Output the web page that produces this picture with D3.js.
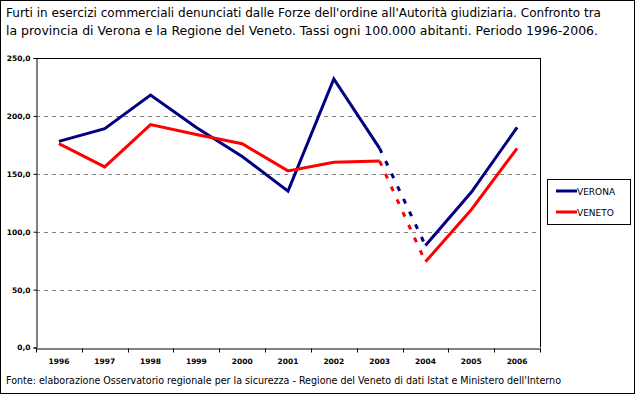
<!DOCTYPE html>
<html><head><meta charset="utf-8">
<script src="https://cdn.jsdelivr.net/npm/d3@7/dist/d3.min.js"></script>
<style>body{margin:0;background:#fff}svg{display:block}</style>
</head><body>
<svg id="c" width="635" height="394"></svg>
<script>
const years = ["1996","1997","1998","1999","2000","2001","2002","2003","2004","2005","2006"];
const verona = [178,189,218,190,165,135,232,172,88,134,190];
const veneto = [176,156,192.5,184,176,152.5,160,161,74,119,172];
const yTicks = [0,50,100,150,200,250];
const seriesNames = ["VERONA","VENETO"];
const seriesColors = ["#000080","#ff0000"];
const titleLines = ["Furti in esercizi commerciali denunciati dalle Forze dell'ordine all'Autorità giudiziaria. Confronto tra",
 "la provincia di Verona e la Regione del Veneto. Tassi ogni 100.000 abitanti. Periodo 1996-2006."];
const sourceText = "Fonte: elaborazione Osservatorio regionale per la sicurezza - Regione del Veneto di dati Istat e Ministero dell'Interno";
const dashedFrom = "2003", dashedTo = "2004";

const svg = d3.select("#c");
const W=635,H=394;
svg.append("rect").attr("x",0.5).attr("y",0.5).attr("width",W-1).attr("height",H-1).attr("fill","#fff").attr("stroke","#000");

const L=36,R=540,T=58,B=347.5;
const x = d3.scaleBand().domain(years).range([L,R]).padding(0);
const y = d3.scaleLinear().domain([0,250]).range([B,T]);

// title
const tl=[[595,13],[592,31]];
svg.selectAll("text.title").data(titleLines).join("text").attr("class","title")
 .attr("x",6).attr("y",(d,i)=>[17,35][i]).attr("font-family","DejaVu Sans, sans-serif").attr("font-size",12.5)
 .attr("textLength",(d,i)=>tl[i][0]).attr("lengthAdjust","spacingAndGlyphs").text(d=>d);

// gridlines
svg.append("g").selectAll("line").data(yTicks.filter(v=>v>0&&v<250)).join("line")
 .attr("x1",L).attr("x2",R).attr("y1",d=>Math.round(y(d))+0.5).attr("y2",d=>Math.round(y(d))+0.5)
 .attr("stroke","#808080").attr("stroke-dasharray","4,4");

// plot border
svg.append("line").attr("x1",L).attr("x2",R).attr("y1",T+0.5).attr("y2",T+0.5).attr("stroke","#000");
svg.append("line").attr("x1",R+0.5).attr("x2",R+0.5).attr("y1",T).attr("y2",B).attr("stroke","#000");

// y axis
const ya = svg.append("g").attr("transform",`translate(${L+0.5},0)`)
 .call(d3.axisLeft(y).tickValues(yTicks).tickSize(3).tickFormat(d=>d3.format(".1f")(d).replace(".",",")));
ya.select(".domain").attr("stroke","#000");
ya.selectAll("text").attr("font-family","DejaVu Sans, sans-serif").attr("font-size",7.5).attr("font-weight","bold").attr("x",-6);

// x axis
const xa = svg.append("g").attr("transform",`translate(0,${Math.round(B)+0.5})`)
 .call(d3.axisBottom(x).tickSize(0).tickSizeOuter(0));
xa.select(".domain").attr("stroke","#000");
xa.selectAll("text").attr("font-family","DejaVu Sans, sans-serif").attr("font-size",7.5).attr("font-weight","bold").attr("dy","0").attr("y",15);
// boundary ticks
const bounds = years.map(d=>x(d)).concat([R]);
xa.selectAll("line.bt").data(bounds).join("line").attr("class","bt")
 .attr("x1",d=>Math.round(d)+0.5).attr("x2",d=>Math.round(d)+0.5).attr("y1",0).attr("y2",4).attr("stroke","#000");

// lines
const cx = d=>x(d)+x.bandwidth()/2;
[verona,veneto].forEach((vals,si)=>{
  const pts = years.map((yr,i)=>({yr,v:vals[i]}));
  const iA = years.indexOf(dashedFrom), iB = years.indexOf(dashedTo);
  const line = d3.line().x(d=>cx(d.yr)).y(d=>y(d.v));
  const g = svg.append("g").attr("fill","none").attr("stroke",seriesColors[si]).attr("stroke-width",3).attr("stroke-linejoin","miter");
  g.append("path").attr("d",line(pts.slice(0,iA+1)));
  g.append("path").attr("d",line(pts.slice(iA,iB+1))).attr("stroke-dasharray","5,9");
  g.append("path").attr("d",line(pts.slice(iB)));
});

// legend
const lg = svg.append("g");
lg.append("rect").attr("x",547.5).attr("y",179.5).attr("width",83).attr("height",45).attr("fill","#fff").attr("stroke","#000");
seriesNames.forEach((n,i)=>{
  const yy=[191,212][i];
  lg.append("line").attr("x1",556).attr("x2",577).attr("y1",yy).attr("y2",yy).attr("stroke",seriesColors[i]).attr("stroke-width",3);
  lg.append("text").attr("x",577).attr("y",yy+3.5).attr("font-family","DejaVu Sans, sans-serif").attr("font-size",9).text(n);
});

// source
svg.append("text").attr("x",6).attr("y",384).attr("font-family","DejaVu Sans, sans-serif").attr("font-size",10)
 .attr("textLength",555).attr("lengthAdjust","spacingAndGlyphs").text(sourceText);
svg.append("line").attr("x1",0).attr("x2",W).attr("y1",393.5).attr("y2",393.5).attr("stroke","#000");
</script>
</body></html>
